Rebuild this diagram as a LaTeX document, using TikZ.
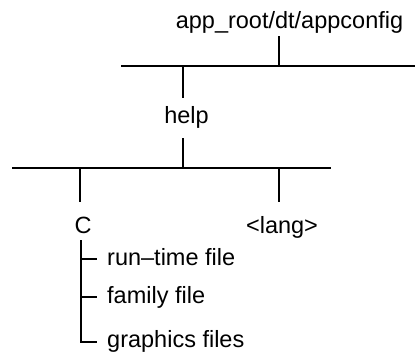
\documentclass[tikz,border=0pt]{standalone}
\usepackage{fontspec}
\setmainfont{Liberation Sans}
\begin{document}
\begin{tikzpicture}[x=1pt,y=-1pt,
  lbl/.style={inner sep=0pt,font=\fontsize{23.5}{26}\selectfont},
  ln/.style={line width=2pt}]
\useasboundingbox (0,0) rectangle (415,354);
% texts
\node[lbl,anchor=base] (root) at (289.5,28) {app\_root/dt/appconfig};
\node[lbl,anchor=base] (help) at (186.5,123) {help};
\node[lbl,anchor=base] (c) at (83,233) {C};
\node[lbl,anchor=base] (lang) at (282,233) {<lang>};
\node[lbl,anchor=base west] (rt) at (107,265) {run–time file};
\node[lbl,anchor=base west] (fam) at (107,303) {family file};
\node[lbl,anchor=base west] (gfx) at (107,347) {graphics files};
% coordinates
\coordinate (r1) at (279,36);
\coordinate (b1l) at (121,66);
\coordinate (b1r) at (415,66);
\coordinate (b1m) at (279,66);
\coordinate (b1h) at (183,66);
\coordinate (h1) at (183,98);
\coordinate (h2) at (183,138);
\coordinate (b2h) at (183,168);
\coordinate (b2l) at (12,168);
\coordinate (b2r) at (331,168);
\coordinate (b2c) at (80,168);
\coordinate (b2g) at (279,168);
\coordinate (c1) at (80,202);
\coordinate (g1) at (279,202);
\coordinate (t0) at (81,240);
\coordinate (t1) at (81,259);
\coordinate (t2) at (81,297);
\coordinate (t3) at (81,342);
\coordinate (e1) at (97,259);
\coordinate (e2) at (97,297);
\coordinate (e3) at (97,342);
% lines
\draw[ln] (r1) -- (b1m);
\draw[ln] (b1l) -- (b1r);
\draw[ln] (b1h) -- (h1);
\draw[ln] (h2) -- (b2h);
\draw[ln] (b2l) -- (b2r);
\draw[ln] (b2c) -- (c1);
\draw[ln] (b2g) -- (g1);
\draw[ln] (t0) -- (t3) -- (e3);
\draw[ln] (t1) -- (e1);
\draw[ln] (t2) -- (e2);
\end{tikzpicture}
\end{document}
